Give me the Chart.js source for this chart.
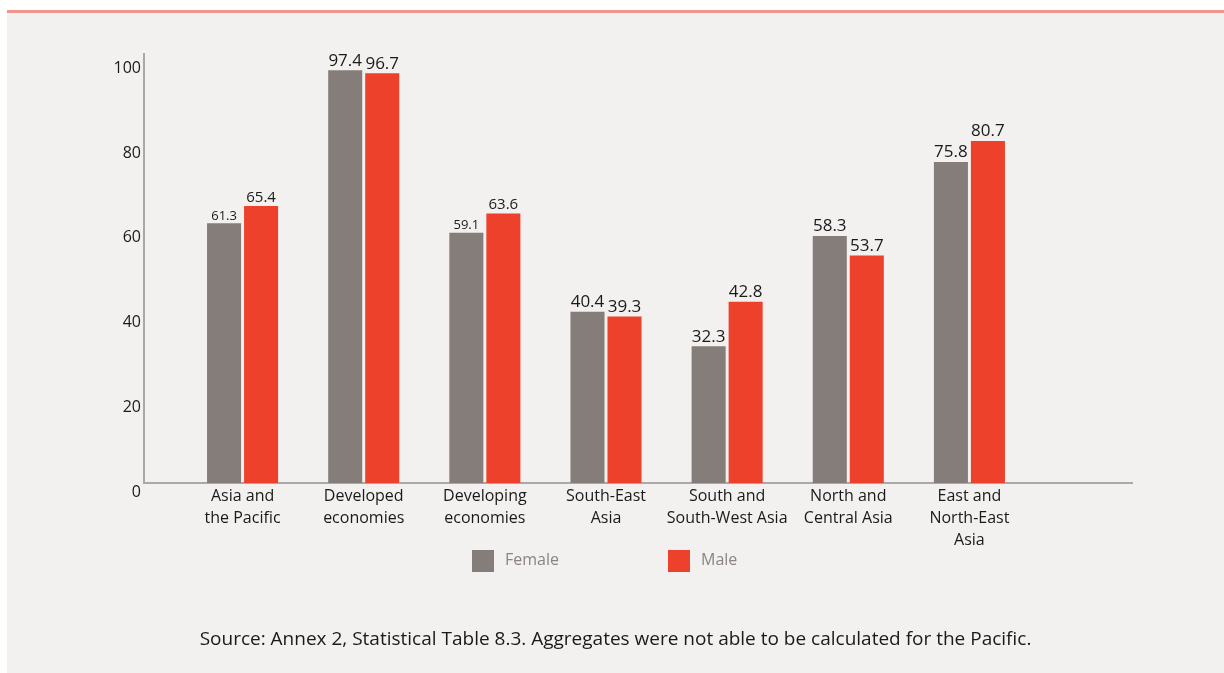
<!DOCTYPE html>
<html>
<head>
<meta charset="utf-8">
<script src="https://cdn.jsdelivr.net/npm/chart.js@4.4.1/dist/chart.umd.min.js"></script>
<style>
    body { margin: 0; background: #ffffff; width: 1224px; height: 673px; overflow: hidden; position: relative; font-family: "Open Sans", sans-serif; }
    .topline { position: absolute; left: 7px; top: 10px; width: 1217px; height: 3px; background: #f2968b; }
    .panel { position: absolute; left: 7px; top: 13px; width: 1217px; height: 660px; background: #f2f1ef; }
    #chartBox { position: absolute; left: 0; top: 0; width: 1217px; height: 660px; }
    .legend-item { position: absolute; top: 537px; height: 22px; display: flex; align-items: center; color: #8c8481; font-size: 16px; line-height: 18px; }
    .legend-item span.box { width: 22px; height: 22px; display: inline-block; margin-right: 11px; }
    .legend-item span.txt { position: relative; top: -2px; }
    .source { position: absolute; left: 0; width: 1217px; top: 612px; text-align: center; font-size: 19px; color: #1a1a1a; }
</style>
</head>
<body>
<div class="topline"></div>
<div class="panel">
    <div id="chartBox"><canvas id="chart" width="1217" height="660"></canvas></div>
    <div class="legend-item" style="left:465px"><span class="box" style="background:#857d79"></span><span class="txt">Female</span></div>
    <div class="legend-item" style="left:661px"><span class="box" style="background:#ee412c"></span><span class="txt">Male</span></div>
    <div class="source">Source: Annex 2, Statistical Table 8.3. Aggregates were not able to be calculated for the Pacific.</div>
</div>
<script>
// Chart data
const categories = [
    ['Asia and', 'the Pacific'],
    ['Developed', 'economies'],
    ['Developing', 'economies'],
    ['South-East', 'Asia'],
    ['South and', 'South-West Asia'],
    ['North and', 'Central Asia'],
    ['East and', 'North-East', 'Asia']
];
const female = [61.3, 97.4, 59.1, 40.4, 32.3, 58.3, 75.8];
const male = [65.4, 96.7, 63.6, 39.3, 42.8, 53.7, 80.7];
const yTicks = [0, 20, 40, 60, 80, 100];

// groups whose value labels are printed smaller in the original
const smallGroups = [0, 2];

const textColor = '#1a1a1a';
const axisColor = '#a9a9a9';

// Axis lines extend past the category band, drawn by hand
const axisLines = {
    id: 'axisLines',
    beforeDatasetsDraw(chart) {
        const { ctx, chartArea } = chart;
        ctx.save();
        ctx.strokeStyle = axisColor;
        ctx.lineWidth = 2;
        ctx.beginPath();
        ctx.moveTo(chartArea.left - 38, chartArea.top);
        ctx.lineTo(chartArea.left - 38, chartArea.bottom);
        ctx.lineTo(chartArea.right + 103, chartArea.bottom);
        ctx.stroke();
        ctx.restore();
    }
};

// Value labels on top of bars
const valueLabels = {
    id: 'valueLabels',
    afterDatasetsDraw(chart) {
        const { ctx } = chart;
        ctx.save();
        ctx.fillStyle = textColor;
        ctx.textAlign = 'center';
        ctx.textBaseline = 'bottom';
        chart.data.datasets.forEach((ds, di) => {
            chart.getDatasetMeta(di).data.forEach((bar, i) => {
                let size = 17;
                if (smallGroups.includes(i)) size = di === 0 ? 13 : 15;
                ctx.font = size + 'px "Open Sans"';
                ctx.fillText(ds.data[i].toFixed(1), bar.x, bar.y - 1);
            });
        });
        ctx.restore();
    }
};

new Chart(document.getElementById('chart'), {
    type: 'bar',
    data: {
        labels: categories,
        datasets: [
            { label: 'Female', data: female, backgroundColor: '#857d79' },
            { label: 'Male', data: male, backgroundColor: '#ee412c' }
        ]
    },
    options: {
        responsive: false,
        animation: false,
        layout: { padding: { top: 40, right: 194, left: 0, bottom: 0 } },
        datasets: { bar: { categoryPercentage: 0.611, barPercentage: 0.92 } },
        plugins: {
            legend: { display: false },
            tooltip: { enabled: false }
        },
        scales: {
            x: {
                grid: { display: false, drawTicks: false },
                border: { display: false },
                ticks: {
                    color: textColor,
                    padding: 2,
                    maxRotation: 0,
                    autoSkip: false,
                    font: { family: 'Open Sans', size: 16, lineHeight: 1.375 }
                },
                afterFit(scale) {
                    scale.height = 190;
                    scale.paddingLeft = 0;
                    scale.paddingRight = 0;
                }
            },
            y: {
                min: 0,
                max: 101.5,
                grid: { display: false, drawTicks: false },
                border: { display: false },
                afterBuildTicks(scale) {
                    scale.ticks = yTicks.map(v => ({ value: v }));
                },
                ticks: {
                    color: textColor,
                    padding: 41,
                    labelOffset: 9,
                    font: { family: 'Open Sans', size: 16 }
                },
                afterFit(scale) {
                    scale.width = 175;
                    scale.paddingTop = 0;
                    scale.paddingBottom = 0;
                }
            }
        }
    },
    plugins: [axisLines, valueLabels]
});
</script>
</body>
</html>
